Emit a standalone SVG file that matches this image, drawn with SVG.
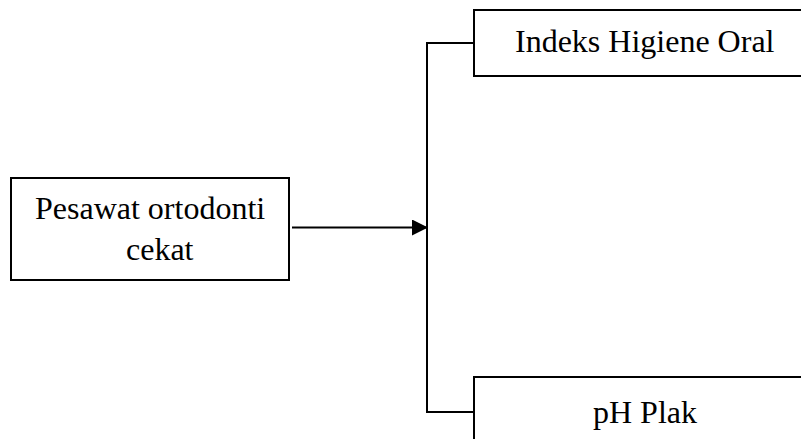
<svg xmlns="http://www.w3.org/2000/svg" width="801" height="439" viewBox="0 0 801 439">
<style>
.box{fill:#fff;stroke:#000;stroke-width:2}
.t{font-family:"Liberation Serif","Times New Roman",serif;font-size:32px;fill:#000}
.c{fill:none;stroke:#000;stroke-width:2}
</style>
<defs>
<marker id="ah" markerUnits="userSpaceOnUse" markerWidth="16" markerHeight="16" refX="16" refY="8" orient="auto">
<path d="M0,0 L16,8 L0,16 Z" fill="#000"/>
</marker>
</defs>
<rect width="801" height="439" fill="#fff"/>
<g id="connectors">
<line class="c" x1="292" y1="227.5" x2="428" y2="227.5" stroke-width="2.5" marker-end="url(#ah)"/>
<polyline class="c" points="474,43 427,43 427,412 474,412"/>
</g>
<g id="node-pesawat">
<rect class="box" x="11" y="178" width="278" height="102"/>
<text class="t" x="35" y="219">Pesawat ortodonti</text>
<text class="t" x="126" y="260">cekat</text>
</g>
<g id="node-indeks">
<rect class="box" x="474" y="10" width="340" height="66"/>
<text class="t" x="515" y="52">Indeks Higiene Oral</text>
</g>
<g id="node-ph">
<rect class="box" x="474" y="377" width="340" height="80"/>
<text class="t" x="593" y="423">pH Plak</text>
</g>
</svg>
